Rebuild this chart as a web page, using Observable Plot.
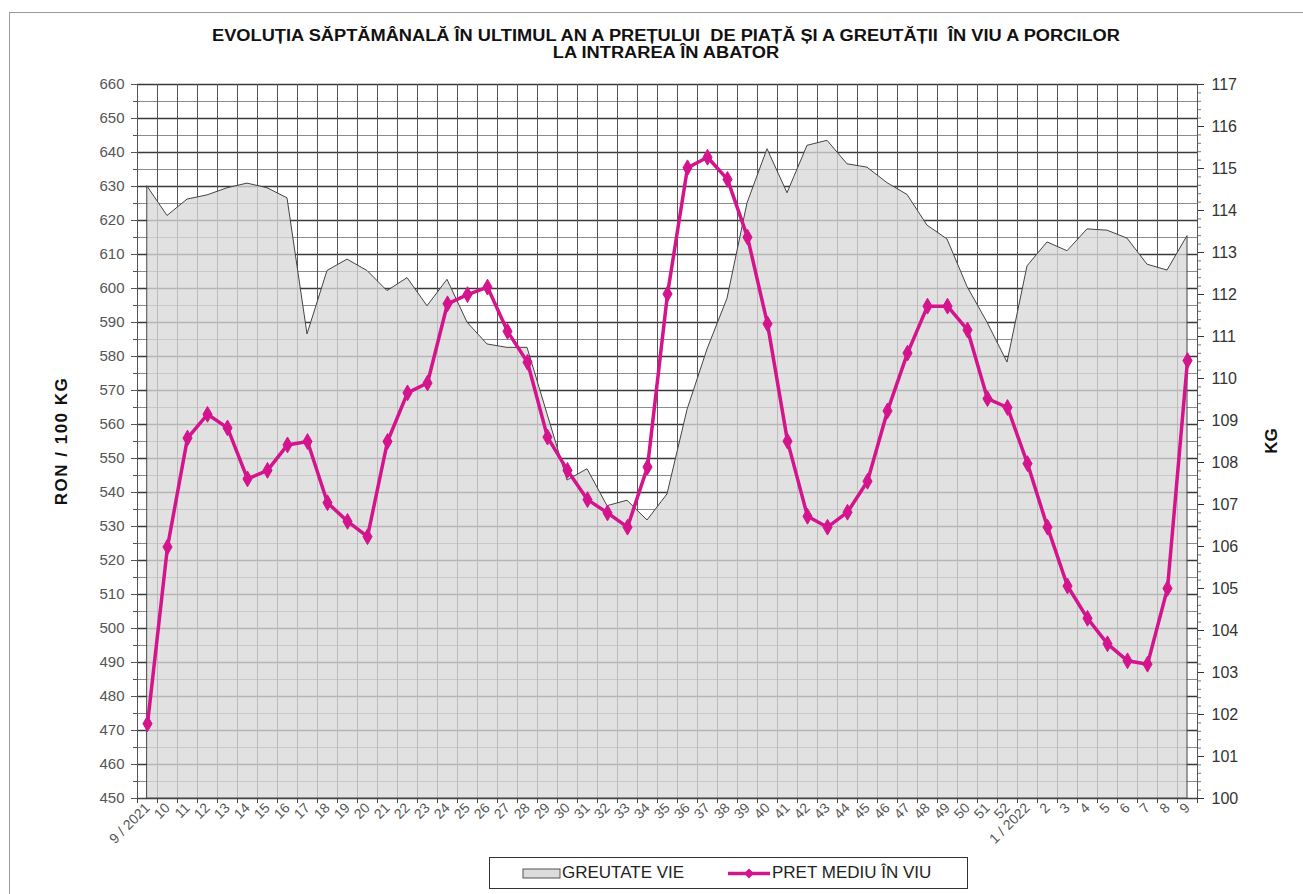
<!DOCTYPE html>
<html>
<head>
<meta charset="utf-8">
<script src="https://cdn.jsdelivr.net/npm/d3@7"></script>
<script src="https://cdn.jsdelivr.net/npm/@observablehq/plot@0.6"></script>
<style>
  html, body { margin: 0; padding: 0; background: #fff; }
  body { width: 1303px; height: 894px; position: relative; overflow: hidden; font-family: "Liberation Sans", Arial, sans-serif; }
  #frame { position: absolute; left: 9px; top: 12px; width: 1310px; height: 900px; border: 1px solid #9a9a9a; box-sizing: border-box; }
  #chart { position: absolute; left: 0; top: 0; }
  .title { position: absolute; left: 666px; transform: translateX(-50%) scaleX(1.14); white-space: pre; font-weight: bold; font-size: 16px; color: #111; }
  .ytitle { position: absolute; font-weight: bold; font-size: 17px; color: #111; white-space: pre; transform: translate(-50%, -50%) rotate(-90deg); }
  #legend { position: absolute; left: 489px; top: 857px; width: 479px; height: 32px; border: 1.5px solid #333; box-sizing: border-box; }
  #legend .item { position: absolute; top: 5px; font-size: 17px; color: #222; white-space: pre; }
</style>
</head>
<body>
<div id="frame"></div>
<div id="chart"></div>
<div class="title" style="top:27px">EVOLUȚIA SĂPTĂMÂNALĂ ÎN ULTIMUL AN A PREȚULUI  DE PIAȚĂ ȘI A GREUTĂȚII  ÎN VIU A PORCILOR</div>
<div class="title" style="top:44px">LA INTRAREA ÎN ABATOR</div>
<div class="ytitle" style="left:62px; top:441px; letter-spacing:1.5px">RON / 100 KG</div>
<div class="ytitle" style="left:1272px; top:441px">KG</div>
<div id="legend">
  <svg width="479" height="32" style="position:absolute;left:0;top:0">
    <rect x="33" y="11" width="37" height="9" fill="#dcdcdc" stroke="#555" stroke-width="1"></rect>
    <line x1="238" y1="15.5" x2="280" y2="15.5" stroke="#d4148c" stroke-width="3.5"></line>
    <path d="M259,10.5 L264,15.5 L259,20.5 L254,15.5 Z" fill="#d4148c"></path>
  </svg>
  <div class="item" style="left:72px">GREUTATE VIE</div>
  <div class="item" style="left:282px">PRET MEDIU ÎN VIU</div>
</div>
<script>
// Week labels (x categories)
const weeks = ["9 / 2021","10","11","12","13","14","15","16","17","18","19","20","21","22","23","24","25","26","27","28","29","30","31","32","33","34","35","36","37","38","39","40","41","42","43","44","45","46","47","48","49","50","51","52","1 / 2022","2","3","4","5","6","7","8","9"];

// GREUTATE VIE (KG, right axis)
const weightKg = [114.57,113.87,114.26,114.36,114.53,114.64,114.53,114.29,111.05,112.56,112.83,112.56,112.08,112.39,111.72,112.35,111.33,110.81,110.73,110.73,109.15,107.57,107.84,106.96,107.09,106.62,107.24,109.25,110.69,111.90,114.17,115.46,114.41,115.54,115.66,115.10,115.02,114.65,114.37,113.64,113.31,112.18,111.33,110.38,112.67,113.24,113.03,113.55,113.52,113.33,112.71,112.57,113.39];

// PRET MEDIU IN VIU (RON / 100 KG, left axis)
const priceRon = [472,524,556,563,559,544,546.5,554,555,537,531.5,527,555,569.3,572.2,595.5,598.2,600.4,587.4,578.3,556.3,546.5,537.9,534,529.8,547.5,598.4,635.5,638.6,632.1,615.1,589.6,555.1,533,529.8,534.2,543.3,564,581,594.8,594.8,587.8,567.6,565,548.5,529.8,512.5,503,495.5,490.5,489.5,511.8,578.8];

// Tick values
const leftTicks = [450,460,470,480,490,500,510,520,530,540,550,560,570,580,590,600,610,620,630,640,650,660];
const rightTicks = [100,101,102,103,104,105,106,107,108,109,110,111,112,113,114,115,116,117];

// map KG (right axis 100..117) onto the RON axis (450..660)
const kgToRon = k => 450 + (k - 100) * 210 / 17;
const ronToKg = r => 100 + (r - 450) * 17 / 210;

const data = weeks.map((w, i) => ({i, week: w, kg: weightKg[i], price: priceRon[i]}));
const bounds = d3.range(-0.5, weeks.length, 1);
const minorLeft = d3.range(455, 660, 10);
const minorRight = d3.range(0, 171, 2).map(t => kgToRon(100 + t / 10)).filter((v, k) => k % 5 !== 0);

const mag = "#d4148c";

const chart = Plot.plot({
  width: 1303,
  height: 894,
  marginTop: 84,
  marginBottom: 96,
  marginLeft: 137,
  marginRight: 106,
  style: {fontFamily: "'Liberation Sans', Arial, sans-serif", background: "transparent", overflow: "visible"},
  x: {type: "linear", domain: [-0.5, weeks.length - 0.5]},
  y: {domain: [450, 660]},
  marks: [
    Plot.ruleY(minorLeft, {stroke: "#8c8c8c", strokeWidth: 1}),
    Plot.ruleY(leftTicks, {stroke: "#3a3a3a", strokeWidth: 1.6}),
    Plot.ruleX(bounds, {stroke: "#555", strokeWidth: 1}),
    Plot.areaY(data, {x: "i", y1: 450, y2: d => kgToRon(d.kg), fill: "#d8d8d8", fillOpacity: 0.78, stroke: "#444", strokeWidth: 1}),
    Plot.line(data, {x: "i", y: "price", stroke: mag, strokeWidth: 3.5}),
    Plot.dot(data, {x: "i", y: "price", symbol: "diamond", r: 4.8, fill: mag, stroke: mag, strokeWidth: 1}),
    Plot.axisY(leftTicks, {anchor: "left", label: null, tickSize: 6, tickPadding: 7, fontSize: 15, color: "#555"}),
    Plot.axisY(minorLeft, {anchor: "left", label: null, tickSize: 4, tickFormat: () => "", color: "#555"}),
    Plot.axisY(rightTicks.map(kgToRon), {anchor: "right", label: null, tickSize: 6, tickPadding: 8, fontSize: 16, color: "#333", tickFormat: v => String(Math.round(ronToKg(v)))}),
    Plot.axisY(minorRight, {anchor: "right", label: null, tickSize: 3, tickFormat: () => "", color: "#777"}),
    Plot.axisX(d3.range(weeks.length), {anchor: "bottom", label: null, tickSize: 0, tickPadding: 7, tickRotate: -45, fontSize: 14, color: "#555", tickFormat: i => weeks[i]}),
    Plot.axisX(bounds, {anchor: "bottom", label: null, tickSize: 5, tickFormat: () => "", color: "#444"}),
    Plot.ruleY([450], {stroke: "#444"})
  ]
});
document.getElementById("chart").appendChild(chart);
</script>
</body>
</html>
